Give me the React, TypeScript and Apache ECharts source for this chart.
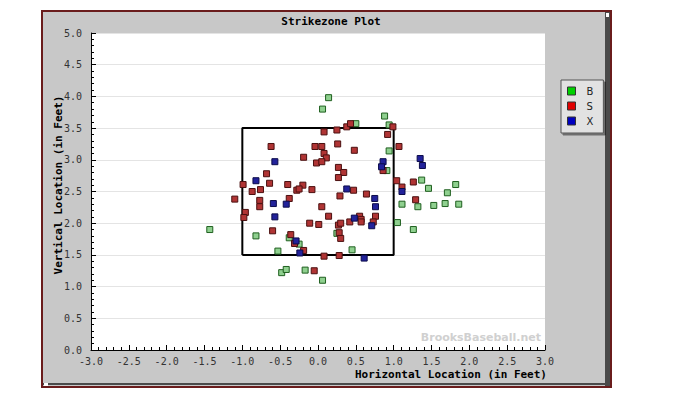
import React, { useEffect, useRef } from "react";
import * as echarts from "echarts";

const xTicks = [-3, 3];
const yTicks = [0, 5];
const zoneX = [-1, -1, 1, 1, -1];
const zoneY = [1.5, 3.5, 3.5, 1.5, 1.5];

const balls: [number, number][] = [
  [0.14, 3.98], [0.06, 3.8], [0.88, 3.69], [0.5, 3.57], [0.94, 3.55], [0.94, 3.14],
  [0.91, 2.83], [1.37, 2.68], [1.46, 2.55], [1.82, 2.61], [1.71, 2.48], [1.11, 2.3],
  [1.32, 2.26], [1.53, 2.28], [1.68, 2.31], [1.86, 2.3], [1.05, 2.01], [1.26, 1.9],
  [0.25, 1.84], [0.45, 1.58], [-1.43, 1.9], [-0.82, 1.8], [-0.38, 1.77], [-0.25, 1.67],
  [-0.53, 1.56], [-0.48, 1.22], [-0.42, 1.27], [-0.17, 1.26], [0.06, 1.1],
];

const strikes: [number, number][] = [
  [0.08, 3.44], [0.25, 3.47], [0.38, 3.52], [0.43, 3.57], [0.99, 3.52], [0.92, 3.4],
  [-0.62, 3.21], [-0.04, 3.21], [0.05, 3.21], [0.26, 3.25], [0.08, 3.1], [0.11, 3.03],
  [-0.19, 3.04], [-0.02, 2.95], [0.05, 2.97], [0.48, 3.15], [1.07, 3.21], [0.27, 2.88],
  [0.34, 2.8], [0.27, 2.72], [0.86, 2.83], [-0.68, 2.78], [-0.64, 2.63], [-0.99, 2.61],
  [-0.4, 2.61], [-0.2, 2.6], [-0.87, 2.5], [-0.76, 2.53], [-0.28, 2.52], [-0.25, 2.54],
  [-0.08, 2.53], [1.04, 2.67], [1.11, 2.57], [1.26, 2.65], [0.47, 2.52], [0.64, 2.46],
  [0.29, 2.43], [1.29, 2.37], [-1.1, 2.38], [-0.77, 2.36], [-0.77, 2.26], [-0.38, 2.39],
  [0.05, 2.26], [0.14, 2.11], [-0.96, 2.17], [-0.98, 2.09], [-0.11, 2.0], [0.01, 1.98],
  [0.27, 1.97], [0.3, 2.0], [0.42, 2.02], [0.55, 2.11], [0.57, 2.06], [0.57, 2.02],
  [0.76, 2.11], [0.73, 2.02], [0.28, 1.85], [0.3, 1.76], [-0.6, 1.88], [-0.36, 1.82],
  [-0.31, 1.68], [-0.19, 1.57], [0.08, 1.48], [0.28, 1.49], [-0.05, 1.25],
];

const inPlay: [number, number][] = [
  [-0.57, 2.97], [-0.82, 2.67], [1.35, 3.02], [1.38, 2.91], [0.86, 2.97], [0.84, 2.89],
  [1.11, 2.5], [0.38, 2.54], [0.75, 2.39], [0.76, 2.26], [0.71, 1.96], [0.48, 2.08],
  [0.61, 1.45], [-0.59, 2.31], [-0.42, 2.3], [-0.57, 2.1], [-0.29, 1.72], [-0.24, 1.53],
];

const seriesNames = ["B", "S", "X"];
const legendColors = ["#00d000", "#e00000", "#0000c0"];

export default function App() {
  const ref = useRef<HTMLDivElement>(null);
  useEffect(() => {
    if (!ref.current) return;
    const chart = echarts.init(ref.current, null, { renderer: "svg" });
    const mono = "DejaVu Sans Mono";
    const axisCommon = {
      axisLine: { show: true, onZero: false, lineStyle: { color: "#000", width: 1 } },
      axisTick: { show: true, inside: true, length: 5, lineStyle: { color: "#000" } },
      minorTick: { show: true, splitNumber: 5, length: 3, lineStyle: { color: "#000" } },
      axisLabel: {
        fontFamily: mono,
        fontSize: 10,
        color: "#333",
        formatter: (v: number) => v.toFixed(1),
      },
    };
    const scatter = (name: string, data: [number, number][], fill: string, border: string) => ({
      type: "scatter",
      name,
      data,
      symbol: "rect",
      symbolSize: 6,
      z: 3,
      itemStyle: { color: fill, borderColor: border, borderWidth: 1, opacity: 1 },
    });
    chart.setOption({
      animation: false,
      graphic: [
        {
          type: "rect",
          z: -10,
          shape: { x: 42, y: 11, width: 569, height: 376 },
          style: { fill: "#c8c8c8", stroke: "#6a1c1c", lineWidth: 2 },
        },
        {
          type: "rect",
          z: -9,
          shape: { x: 605, y: 12, width: 5, height: 374 },
          style: { fill: "#4a4a4a" },
        },
        {
          type: "rect",
          z: -9,
          shape: { x: 43, y: 383, width: 563, height: 2 },
          style: { fill: "#4a4a4a" },
        },
        {
          type: "rect",
          z: -8,
          shape: { x: 606, y: 13, width: 3, height: 4 },
          style: { fill: "#ffffff" },
        },
        {
          type: "rect",
          z: -8,
          shape: { x: 44, y: 383, width: 4, height: 3 },
          style: { fill: "#ffffff" },
        },
        {
          type: "text",
          z: 10,
          x: 331,
          y: 21,
          style: {
            text: "Strikezone Plot",
            fontFamily: mono,
            fontWeight: "bold",
            fontSize: 11,
            fill: "#000",
            align: "center",
            verticalAlign: "middle",
          },
        },
        {
          type: "text",
          z: 10,
          x: 58,
          y: 185,
          rotation: Math.PI / 2,
          style: {
            text: "Vertical Location (in Feet)",
            fontFamily: mono,
            fontWeight: "bold",
            fontSize: 11,
            fill: "#000",
            align: "center",
            verticalAlign: "middle",
          },
        },
        {
          type: "text",
          z: 10,
          x: 547,
          y: 374,
          style: {
            text: "Horizontal Location (in Feet)",
            fontFamily: mono,
            fontWeight: "bold",
            fontSize: 11,
            fill: "#000",
            align: "right",
            verticalAlign: "middle",
          },
        },
        {
          type: "text",
          z: 1,
          x: 541,
          y: 337,
          style: {
            text: "BrooksBaseball.net",
            fontFamily: "DejaVu Sans",
            fontWeight: "bold",
            fontSize: 11,
            fill: "#d0d0d0",
            stroke: "#ffffff",
            lineWidth: 1,
            align: "right",
            verticalAlign: "middle",
          },
        },
      ],
      legend: {
        data: seriesNames.map((n, i) => ({
          name: n,
          icon: "rect",
          itemStyle: { color: legendColors[i], borderColor: "#333", borderWidth: 1 },
        })),
        orient: "vertical",
        left: 561,
        top: 80,
        itemWidth: 8,
        itemHeight: 8,
        itemGap: 5,
        padding: [6, 10, 7, 6],
        backgroundColor: "#e2e2e2",
        borderColor: "#555",
        borderWidth: 1,
        shadowColor: "rgba(0,0,0,0.45)",
        shadowOffsetX: 2,
        shadowOffsetY: 2,
        shadowBlur: 0,
        textStyle: { fontFamily: "DejaVu Sans", fontSize: 10, color: "#222", padding: [0, 0, 0, 6] },
        selectedMode: false,
      },
      grid: {
        left: 91,
        top: 33,
        width: 454,
        height: 317,
        show: true,
        backgroundColor: "#ffffff",
        borderWidth: 0,
      },
      xAxis: {
        type: "value",
        min: xTicks[0],
        max: xTicks[1],
        interval: 0.5,
        ...axisCommon,
        axisLabel: { ...axisCommon.axisLabel, margin: 6 },
        splitLine: { show: false },
      },
      yAxis: {
        type: "value",
        min: yTicks[0],
        max: yTicks[1],
        interval: 0.5,
        ...axisCommon,
        axisLabel: { ...axisCommon.axisLabel, margin: 9 },
        splitLine: { show: true, lineStyle: { color: "#e4e4e4", width: 1 } },
      },
      series: [
        {
          type: "line",
          name: "zone",
          data: zoneX.map((x, i) => [x, zoneY[i]]),
          symbol: "none",
          silent: true,
          z: 2,
          lineStyle: { color: "#000", width: 2 },
        },
        scatter(seriesNames[0], balls, "#8fd08f", "#1f5f1f"),
        scatter(seriesNames[1], strikes, "#b03434", "#4a1010"),
        scatter(seriesNames[2], inPlay, "#22229a", "#0b0b4a"),
      ],
    });
    return () => chart.dispose();
  }, []);
  return (
    <div
      ref={ref}
      style={{ position: "absolute", left: 0, top: 0, width: 677, height: 397 }}
    />
  );
}
